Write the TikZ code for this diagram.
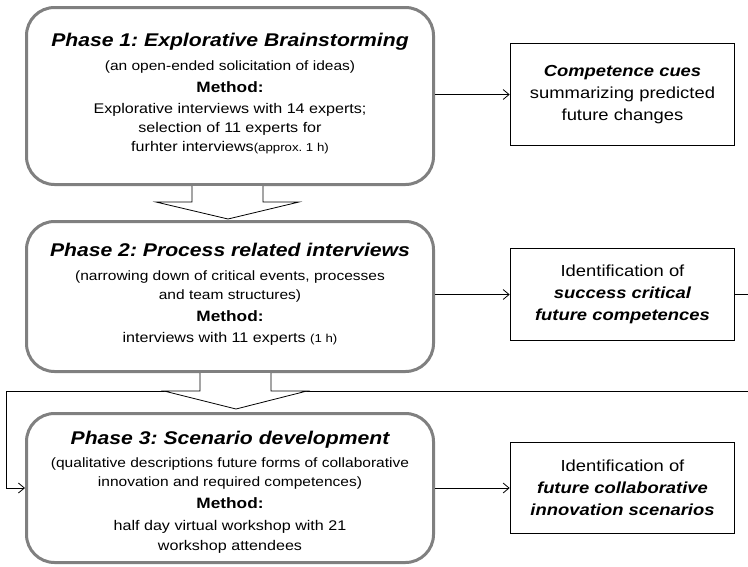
\documentclass[tikz,border=0pt]{standalone}
\usepackage{fontspec}
\setmainfont{Liberation Sans}[FakeStretch=1.15]
\usepackage{tikz}
\usetikzlibrary{positioning,calc}
\usetikzlibrary{arrows.meta}
\frenchspacing
\newcommand{\titlefont}{\fontsize{18.4}{19}\selectfont\bfseries\itshape}
\newcommand{\subfont}{\fontsize{13.5}{19}\selectfont}
\newcommand{\methodfont}{\fontsize{15}{19}\selectfont\bfseries}
\newcommand{\notefont}{\fontsize{11.5}{19}\selectfont}
\newcommand{\keyfont}{\bfseries\itshape}

\begin{document}
\begin{tikzpicture}[x=1pt,y=-1pt,
  phase/.style={draw=black!50, line width=3pt, rounded corners=28pt, fill=white, minimum width=407pt},
  phasetext/.style={align=center, inner sep=0pt, font=\fontsize{14}{19}\selectfont},
  result/.style={draw, line width=1.6pt, align=center, minimum width=224pt, inner sep=0pt, font=\fontsize{16}{22}\selectfont},
  flow/.style={-{Straight Barb[length=6pt,width=10pt]}, line width=0.8pt},
  bigarrow/.style={draw, fill=white, line width=0.8pt}]
  \useasboundingbox (0,0) rectangle (748,566);

  % Phase boxes
  \node[phase, minimum height=177pt] (ph1) at (230,96) {};
  \node[phase, minimum height=150pt] (ph2) at (230,296.5) {};
  \node[phase, minimum height=149pt] (ph3) at (230,488) {};

  % Result boxes
  \node[result, minimum height=102pt] (res1) at (622.5,94.5) {{\keyfont Competence cues}\\ summarizing predicted\\ future changes};
  \node[result, minimum height=92pt] (res2) at (622.5,294.5) {Identification of\\ {\keyfont success critical}\\ {\keyfont future competences}};
  \node[result, minimum height=91pt] (res3) at (622.5,488) {Identification of\\ {\keyfont future collaborative}\\ {\keyfont innovation scenarios}};

  % Phase texts
  \node[phasetext, below=26.5pt of ph1.north] (ph1txt) {%
    {\titlefont Phase 1: Explorative Brainstorming}\\[5pt]
    {\subfont (an open-ended solicitation of ideas)}\\[3pt]
    {\methodfont Method:}\\[2pt]
    Explorative interviews with 14 experts;\\
    selection of 11 experts for\\
    furhter interviews{\notefont(approx. 1 h)}};
  \node[phasetext, below=22.5pt of ph2.north] (ph2txt) {%
    {\titlefont Phase 2: Process related interviews}\\[5pt]
    {\subfont (narrowing down of critical events, processes}\\
    {\subfont and team structures)}\\[3pt]
    {\methodfont Method:}\\[2pt]
    interviews with 11 experts {\notefont(1 h)}};
  \node[phasetext, below=19pt of ph3.north] (ph3txt) {%
    {\titlefont Phase 3: Scenario development}\\[4pt]
    {\subfont (qualitative descriptions future forms of collaborative}\\
    {\subfont innovation and required competences)}\\[3pt]
    {\methodfont Method:}\\[3pt]
    half day virtual workshop with 21\\[1pt]
    workshop attendees};

  % Arrows to the results
  \draw[flow] (res1.west -| ph1.east) -- (res1.west);
  \draw[flow] (res2.west -| ph2.east) -- (res2.west);
  \draw[flow] (ph3.east) -- (res3.west);

  % Feedback line into phase 3
  \coordinate (fbr) at (760,391);
  \coordinate (fbl) at (6,391);
  \draw[flow] (res2.east) -| (fbr) -- (fbl) |- (ph3.west);

  % Block arrows between phases
  \draw[bigarrow] ($(ph1.south)+(-38,0)$) -- ++(0,16) -- ++(-36,0) -- ($(ph2.north)+(-2,-1)$)
    -- ($(ph1.south)+(69,16)$) -- ++(-36,0) -- ++(0,-16);
  \draw[bigarrow] ($(ph2.south)+(-30,0)$) -- ++(0,18) -- ++(-36,0) -- ($(ph3.north)+(6,-3)$)
    -- ($(ph2.south)+(77,18)$) -- ++(-36,0) -- ++(0,-18);

\end{tikzpicture}
\end{document}
